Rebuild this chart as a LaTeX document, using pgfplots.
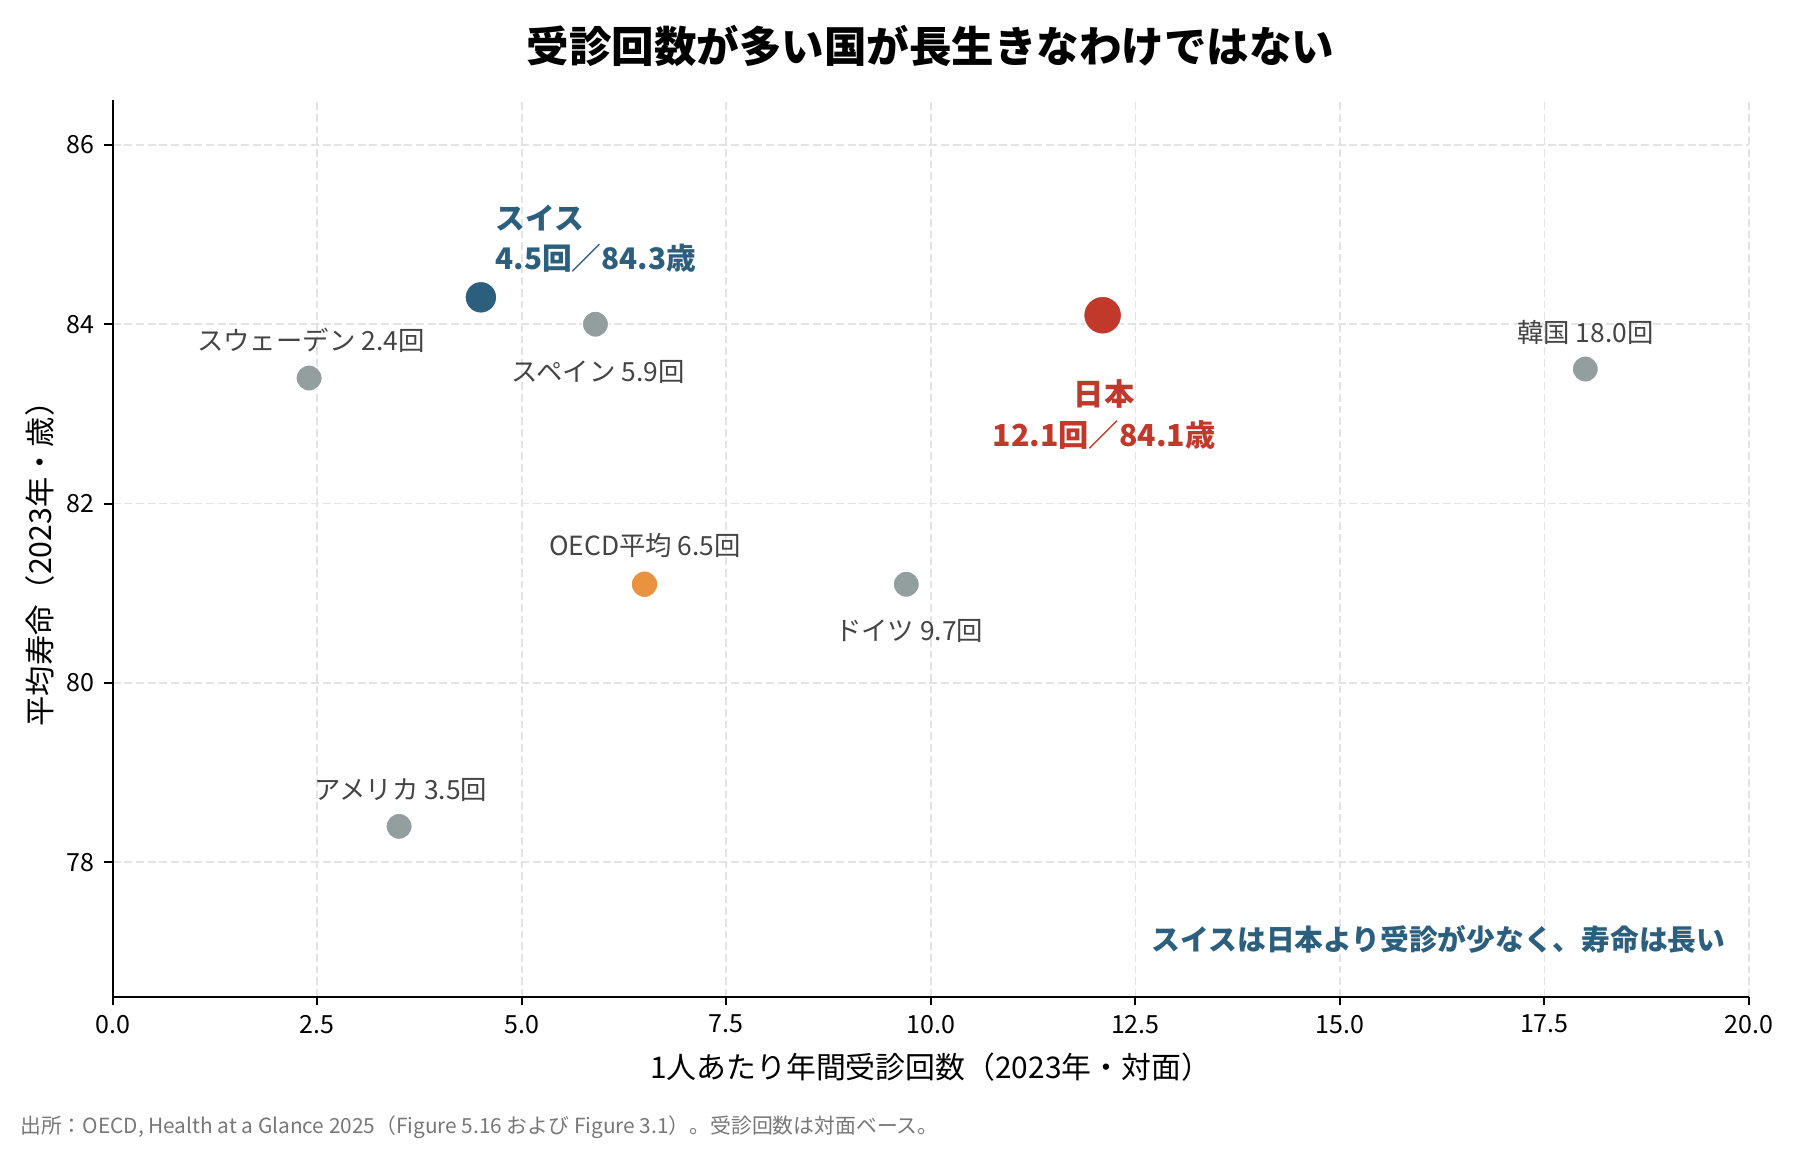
\documentclass[border=0pt]{standalone}
\usepackage{fontspec}
\setmainfont{Noto Sans CJK JP}
\usepackage{pgfplots}
\pgfplotsset{compat=1.18}
\definecolor{cgray}{HTML}{939E9F}
\definecolor{corange}{HTML}{E9923F}
\definecolor{cblue}{HTML}{2C5F7D}
\definecolor{cred}{HTML}{C0392B}
\definecolor{ctext}{HTML}{444444}
\definecolor{cfoot}{HTML}{777777}
\definecolor{cgrid}{HTML}{E3E3E3}
\begin{document}
\begin{tikzpicture}
\useasboundingbox (0,0) rectangle (648pt,414.72pt);
\begin{axis}[
  at={(40.6pt,55.9pt)}, anchor=south west,
  scale only axis, width=589pt, height=322.8pt,
  xmin=0, xmax=20, ymin=76.5, ymax=86.5,
  axis x line*=bottom, axis y line*=left,
  axis line style={line width=0.7pt, black},
  xtick={0,2.5,5,7.5,10,12.5,15,17.5,20},
  ytick={78,80,82,84,86},
  tick align=outside, major tick length=3.1pt,
  major tick style={line width=0.7pt, black},
  grid=major,
  major grid style={cgrid, line width=0.6pt, dash pattern=on 2.8pt off 1.4pt},
  ticklabel style={font=\fontsize{9}{10}\selectfont},
  /pgf/number format/assume math mode=true,
  xticklabel style={/pgf/number format/.cd, fixed, fixed zerofill, precision=1},
  yticklabel style={/pgf/number format/.cd, fixed, precision=0},
  clip=false,
]
\addplot[only marks, mark=*, mark size=4.75pt, mark options={fill=cgray, draw=white, line width=0.5pt}]
  coordinates {(2.4,83.4) (5.9,84.0) (18.0,83.5) (9.7,81.1) (3.5,78.4)};
\addplot[only marks, mark=*, mark size=4.85pt, mark options={fill=corange, draw=white, line width=0.5pt}]
  coordinates {(6.5,81.1)};
\addplot[only marks, mark=*, mark size=5.75pt, mark options={fill=cblue, draw=white, line width=0.5pt}]
  coordinates {(4.5,84.3)};
\addplot[only marks, mark=*, mark size=6.85pt, mark options={fill=cred, draw=white, line width=0.5pt}]
  coordinates {(12.1,84.1)};
% gray labels
\begin{scope}[every node/.style={font=\fontsize{9.5}{11}\selectfont, text=ctext, inner sep=0pt}]
\node[xshift=0.6pt, yshift=13.5pt] at (axis cs:2.4,83.4) {スウェーデン 2.4回};
\node[xshift=1pt, yshift=-17.3pt] at (axis cs:5.9,84.0) {スペイン 5.9回};
\node[xshift=0pt, yshift=13pt] at (axis cs:18.0,83.5) {韓国 18.0回};
\node[xshift=0.2pt, yshift=13.8pt] at (axis cs:6.5,81.1) {OECD平均 6.5回};
\node[xshift=1pt, yshift=-17pt] at (axis cs:9.7,81.1) {ドイツ 9.7回};
\node[xshift=0.6pt, yshift=13pt] at (axis cs:3.5,78.4) {アメリカ 3.5回};
\end{scope}
\node[anchor=west, xshift=5.1pt, yshift=21.1pt, align=left, inner sep=0pt, text=cblue,
  font=\bfseries\fontsize{10.7}{14.2}\selectfont] at (axis cs:4.5,84.3) {スイス\\4.5回／84.3歳};
\node[xshift=0.5pt, yshift=-35.8pt, align=center, inner sep=0pt, text=cred,
  font=\bfseries\fontsize{10.9}{14.9}\selectfont] at (axis cs:12.1,84.1) {日本\\12.1回／84.1歳};
\node[anchor=east, inner sep=0pt, text=cblue, font=\bfseries\fontsize{10.35}{12}\selectfont]
  at (rel axis cs:0.986,0.064) {スイスは日本より受診が少なく、寿命は長い};
\end{axis}
\node[inner sep=0pt, font=\bfseries\fontsize{15.3}{18}\selectfont] at (334.9pt,398.2pt) {受診回数が多い国が長生きなわけではない};
\node[inner sep=0pt, font=\fontsize{10.75}{12}\selectfont] at (335pt,30.6pt) {1人あたり年間受診回数（2023年・対面）};
\node[inner sep=0pt, rotate=90, font=\fontsize{10.9}{12}\selectfont] at (14.5pt,214.4pt) {平均寿命（2023年・歳）};
\node[anchor=west, inner sep=0pt, text=cfoot, font=\fontsize{7.5}{9}\selectfont] at (7.06pt,9.0pt) {出所：OECD, Health at a Glance 2025（Figure 5.16 および Figure 3.1）。受診回数は対面ベース。};
\end{tikzpicture}
\end{document}
